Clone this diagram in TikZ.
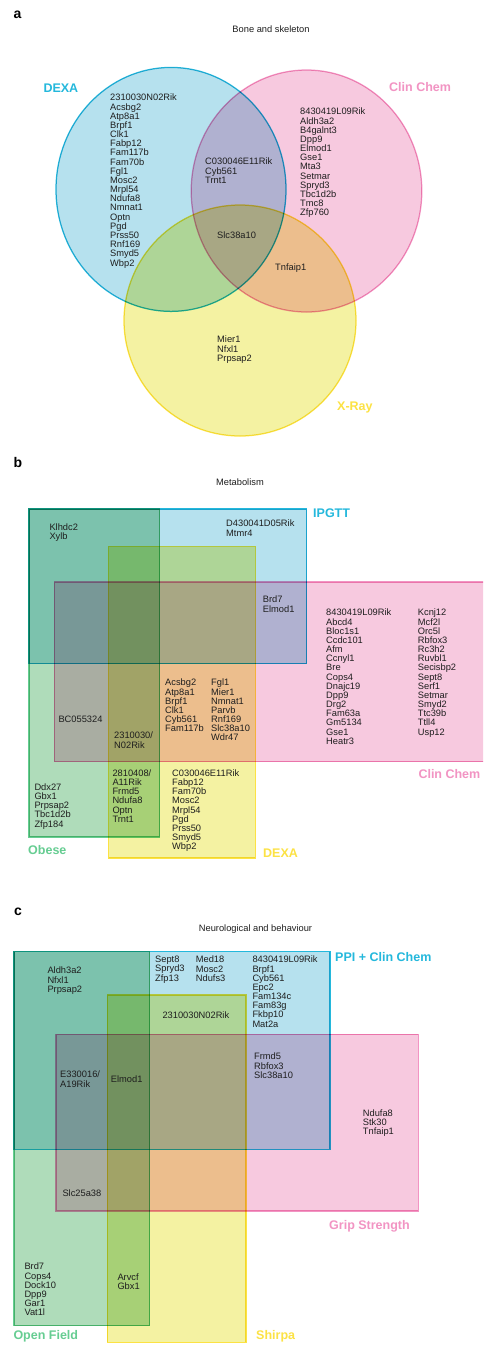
\documentclass[tikz,border=0pt]{standalone}
\usepackage{fontspec}
\setmainfont{Liberation Sans}
\definecolor{cyS}{HTML}{24B8DC}
\definecolor{cyF}{HTML}{B6E1EE}
\definecolor{pkS}{HTML}{F294C3}
\definecolor{pkF}{HTML}{F7C9DF}
\definecolor{ylS}{HTML}{FCE244}
\definecolor{ylF}{HTML}{F4F2A2}
\definecolor{gnS}{HTML}{66CD92}
\definecolor{gnF}{HTML}{AFDCBA}
\definecolor{txt}{HTML}{1E1E1E}
\newcommand\genefont{\fontsize{9.3}{9.17}\selectfont}
\newcommand\setfont{\fontsize{12.5}{14}\selectfont\bfseries}
\tikzset{
  gl/.style={font=\genefont, anchor=north west, inner sep=0pt, align=left, text=txt},
  setlab/.style={font=\setfont, anchor=west, inner sep=0pt},
  ttl/.style={font=\genefont, inner sep=0pt, text=txt},
  plet/.style={font=\fontsize{14}{15}\selectfont\bfseries, inner sep=0pt},
  cyset/.style={draw=cyS, fill=cyF, line width=1.25pt},
  pkset/.style={draw=pkS, fill=pkF, line width=1.25pt},
  ylset/.style={draw=ylS, fill=ylF, line width=1.25pt},
  gnset/.style={draw=gnS, fill=gnF, line width=1.25pt},
}
\begin{document}
\begin{tikzpicture}[x=1pt,y=-1pt]
\clip (0,0) rectangle (483,1345);
\fill[white] (0,0) rectangle (483,1345);

% ---------------- panel a ----------------
\node[plet] (la) at (17.5,15) {a};
\node[ttl] (ta) at (271,29) {Bone and skeleton};
\begin{scope}[blend mode=multiply]
  \draw[cyset] (171,189.4) ellipse [x radius=115, y radius=122];
  \draw[pkset] (306.5,191) ellipse [x radius=115.3, y radius=121];
  \draw[ylset] (240,320.5) ellipse [x radius=116, y radius=115.5];
\end{scope}
\node[setlab, text=cyS] (a-dexa) at (43.3,88.3) {DEXA};
\node[setlab, text=pkS] (a-clin) at (389,87.5) {Clin Chem};
\node[setlab, text=ylS] (a-xray) at (337,407) {X-Ray};
\node[gl] (a1) at (110,94) {2310030N02Rik\\Acsbg2\\Atp8a1\\Brpf1\\Clk1\\Fabp12\\Fam117b\\Fam70b\\Fgl1\\Mosc2\\Mrpl54\\Ndufa8\\Nmnat1\\Optn\\Pgd\\Prss50\\Rnf169\\Smyd5\\Wbp2};
\node[gl] (a2) at (300,108) {8430419L09Rik\\Aldh3a2\\B4galnt3\\Dpp9\\Elmod1\\Gse1\\Mta3\\Setmar\\Spryd3\\Tbc1d2b\\Tmc8\\Zfp760};
\node[gl] (a3) at (205,158) {C030046E11Rik\\Cyb561\\Trnt1};
\node[gl] (a4) at (217,231.5) {Slc38a10};
\node[gl] (a5) at (275,263.5) {Tnfaip1};
\node[gl] (a6) at (217,336) {Mier1\\Nfxl1\\Prpsap2};

% ---------------- panel b ----------------
\node[plet] (lb) at (18,462) {b};
\node[ttl] (tb) at (240,482) {Metabolism};
\begin{scope}[blend mode=multiply]
  \draw[gnset] (29,509) rectangle (159.5,837);
  \draw[cyset] (29,509) rectangle (306.7,663.5);
  \draw[ylset] (108.7,546.7) rectangle (255.3,858);
  \draw[pkset] (54.3,582) rectangle (500,761.7);
\end{scope}
\node[setlab, text=cyS] (b-ipgtt) at (313,513.3) {IPGTT};
\node[setlab, text=pkS] (b-clin) at (418.3,774) {Clin Chem};
\node[setlab, text=gnS] (b-obese) at (28,850) {Obese};
\node[setlab, text=ylS] (b-dexa) at (263,853) {DEXA};
\node[gl] (b1) at (49.3,523.5) {Klhdc2\\Xylb};
\node[gl] (b2) at (226,520) {D430041D05Rik\\Mtmr4};
\node[gl] (b3) at (262.7,596) {Brd7\\Elmod1};
\node[gl] (b4) at (326,609) {8430419L09Rik\\Abcd4\\Bloc1s1\\Ccdc101\\Afm\\Ccnyl1\\Bre\\Cops4\\Dnajc19\\Dpp9\\Drg2\\Fam63a\\Gm5134\\Gse1\\Heatr3};
\node[gl] (b5) at (417.7,609) {Kcnj12\\Mcf2l\\Orc5l\\Rbfox3\\Rc3h2\\Ruvbl1\\Secisbp2\\Sept8\\Serf1\\Setmar\\Smyd2\\Ttc39b\\Ttll4\\Usp12};
\node[gl] (b6) at (58.3,716) {BC055324};
\node[gl] (b7) at (114,732) {2310030/\\N02Rik};
\node[gl] (b8) at (165,679) {Acsbg2\\Atp8a1\\Brpf1\\Clk1\\Cyb561\\Fam117b};
\node[gl] (b9) at (211,679) {Fgl1\\Mier1\\Nmnat1\\Parvb\\Rnf169\\Slc38a10\\Wdr47};
\node[gl] (b10) at (112.3,769.5) {2810408/\\A11Rik\\Frmd5\\Ndufa8\\Optn\\Trnt1};
\node[gl] (b11) at (172,769.5) {C030046E11Rik\\Fabp12\\Fam70b\\Mosc2\\Mrpl54\\Pgd\\Prss50\\Smyd5\\Wbp2};
\node[gl] (b12) at (34.3,783.5) {Ddx27\\Gbx1\\Prpsap2\\Tbc1d2b\\Zfp184};

% ---------------- panel c ----------------
\node[plet] (lc) at (18,912) {c};
\node[ttl] (tc) at (255.5,929) {Neurological and behaviour};
\begin{scope}[blend mode=multiply]
  \draw[gnset] (14,951.7) rectangle (149.7,1325.7);
  \draw[cyset] (14,951.7) rectangle (330,1149.3);
  \draw[ylset] (107.3,995) rectangle (246,1342.3);
  \draw[pkset] (56,1034.3) rectangle (418.3,1211);
\end{scope}
\node[setlab, text=cyS] (c-ppi) at (335,957.3) {PPI + Clin Chem};
\node[setlab, text=pkS] (c-grip) at (329,1226.7) {Grip Strength};
\node[setlab, text=gnS] (c-open) at (13.3,1336.7) {Open Field};
\node[setlab, text=ylS] (c-shirpa) at (256,1336.7) {Shirpa};
\node[gl] (c1) at (47.3,967) {Aldh3a2\\Nfxl1\\Prpsap2};
\node[gl] (c2) at (155,956) {Sept8\\Spryd3\\Zfp13};
\node[gl] (c3) at (195.7,956) {Med18\\Mosc2\\Ndufs3};
\node[gl] (c4) at (252.3,956) {8430419L09Rik\\Brpf1\\Cyb561\\Epc2\\Fam134c\\Fam83g\\Fkbp10\\Mat2a};
\node[gl] (c5) at (162.3,1012) {2310030N02Rik};
\node[gl] (c6) at (254,1053) {Frmd5\\Rbfox3\\Slc38a10};
\node[gl] (c7) at (60,1071) {E330016/\\A19Rik};
\node[gl] (c8) at (110.7,1076) {Elmod1};
\node[gl] (c9) at (362.7,1109.5) {Ndufa8\\Stk30\\Tnfaip1};
\node[gl] (c10) at (62.3,1190) {Slc25a38};
\node[gl] (c11) at (24.3,1263) {Brd7\\Cops4\\Dock10\\Dpp9\\Gar1\\Vat1l};
\node[gl] (c12) at (117.3,1273.5) {Arvcf\\Gbx1};
\end{tikzpicture}
\end{document}
